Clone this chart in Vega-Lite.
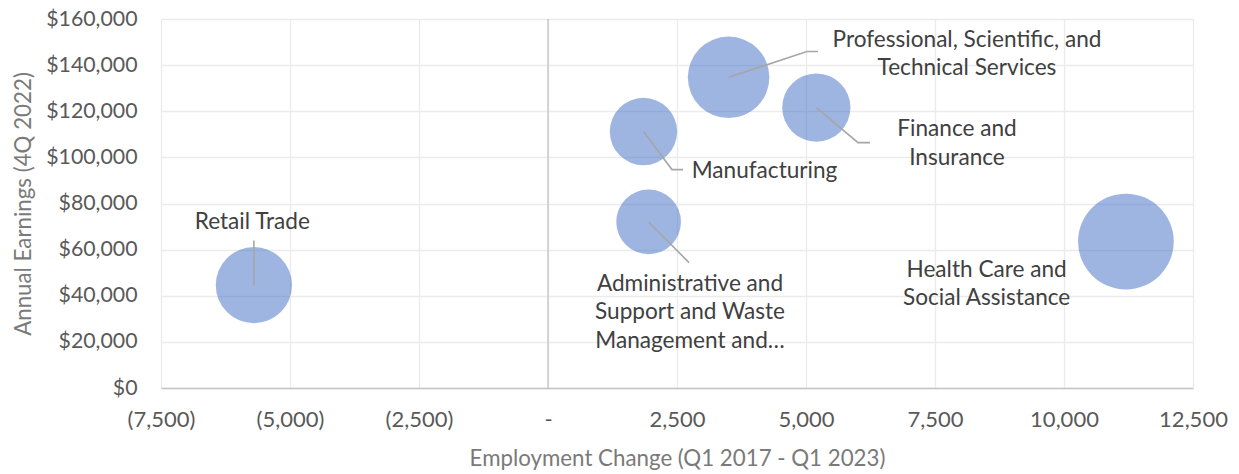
{
  "$schema": "https://vega.github.io/schema/vega-lite/v6.json",
  "width": 1032,
  "height": 369,
  "autosize": {"type": "none"},
  "padding": {"left": 161, "top": 19, "right": 46, "bottom": 86},
  "background": "white",
  "config": {"view": {"stroke": null}, "font": "Lato"},
  "datasets": {
    "industries": [
      {"industry": "Retail Trade", "label": "Retail Trade", "employment_change": -5700, "annual_earnings": 44600, "bubble": 1849, "label_x": -5730, "label_y": 72150},
      {"industry": "Manufacturing", "label": "Manufacturing", "employment_change": 1850, "annual_earnings": 111200, "bubble": 1444, "label_x": 4196, "label_y": 94270},
      {"industry": "Professional, Scientific, and Technical Services", "label": "Professional, Scientific, and\nTechnical Services", "employment_change": 3500, "annual_earnings": 134700, "bubble": 2116, "label_x": 8120, "label_y": 151100},
      {"industry": "Finance and Insurance", "label": "Finance and\nInsurance", "employment_change": 5200, "annual_earnings": 121600, "bubble": 1482, "label_x": 7926, "label_y": 112300},
      {"industry": "Administrative and Support and Waste Management and Remediation Services", "label": "Administrative and\nSupport and Waste\nManagement and…", "employment_change": 1950, "annual_earnings": 72000, "bubble": 1332, "label_x": 2752, "label_y": 45250},
      {"industry": "Health Care and Social Assistance", "label": "Health Care and\nSocial Assistance", "employment_change": 11200, "annual_earnings": 63500, "bubble": 2916, "label_x": 8500, "label_y": 51300}
    ],
    "leaders": [
      {"industry": "Retail Trade", "pt": 1, "x": -5700, "y": 44600},
      {"industry": "Retail Trade", "pt": 2, "x": -5700, "y": 64000},
      {"industry": "Manufacturing", "pt": 1, "x": 1850, "y": 111200},
      {"industry": "Manufacturing", "pt": 2, "x": 2403, "y": 94700},
      {"industry": "Manufacturing", "pt": 3, "x": 2616, "y": 94700},
      {"industry": "Professional", "pt": 1, "x": 3500, "y": 134700},
      {"industry": "Professional", "pt": 2, "x": 5019, "y": 145900},
      {"industry": "Professional", "pt": 3, "x": 5233, "y": 145900},
      {"industry": "Finance", "pt": 1, "x": 5200, "y": 121600},
      {"industry": "Finance", "pt": 2, "x": 6008, "y": 106400},
      {"industry": "Finance", "pt": 3, "x": 6240, "y": 106400},
      {"industry": "Administrative", "pt": 1, "x": 1950, "y": 72000},
      {"industry": "Administrative", "pt": 2, "x": 2733, "y": 54360}
    ]
  },
  "layer": [
    {
      "data": {"values": [{"v": 0}]},
      "mark": {"type": "rule", "color": "#C4C4C4", "strokeWidth": 1.3},
      "encoding": {
        "x": {
          "field": "v",
          "type": "quantitative",
          "scale": {"domain": [-7500, 12500], "nice": false, "zero": false},
          "axis": {
            "values": [-7500, -5000, -2500, 0, 2500, 5000, 7500, 10000, 12500],
            "labelExpr": "datum.value < 0 ? '(' + format(-datum.value, ',') + ')' : (datum.value == 0 ? '-' : format(datum.value, ','))",
            "labelFlush": false,
            "labelOverlap": false,
            "grid": true,
            "gridColor": "#EBEBEB",
            "gridWidth": 1.3,
            "domain": true,
            "domainColor": "#C4C4C4",
            "domainWidth": 1.5,
            "ticks": false,
            "labelFontSize": 22,
            "labelColor": "#595959",
            "labelPadding": 21,
            "labelFont": "Lato",
            "title": "Employment Change (Q1 2017 - Q1 2023)",
            "titleFont": "Lato",
            "titleFontSize": 22.3,
            "titleFontWeight": "normal",
            "titleColor": "#7A7A7A",
            "titlePadding": 17
          }
        }
      }
    },
    {
      "data": {"name": "industries"},
      "mark": {"type": "point", "shape": "circle", "filled": true, "color": "#4472C4", "opacity": 0.52, "strokeWidth": 0},
      "encoding": {
        "x": {"field": "employment_change", "type": "quantitative", "scale": {"domain": [-7500, 12500], "nice": false, "zero": false}},
        "y": {
          "field": "annual_earnings",
          "type": "quantitative",
          "scale": {"domain": [0, 160000], "nice": false},
          "axis": {
            "values": [0, 20000, 40000, 60000, 80000, 100000, 120000, 140000, 160000],
            "labelExpr": "'$' + format(datum.value, ',')",
            "labelOverlap": false,
            "labelFlush": false,
            "grid": true,
            "gridColor": "#EBEBEB",
            "gridWidth": 1.3,
            "domain": false,
            "ticks": false,
            "labelFontSize": 21.3,
            "labelColor": "#595959",
            "labelPadding": 24,
            "labelFont": "Lato",
            "title": "Annual Earnings (4Q 2022)",
            "titleFont": "Lato",
            "titleFontSize": 22.3,
            "titleFontWeight": "normal",
            "titleColor": "#7A7A7A",
            "titlePadding": 10
          }
        },
        "size": {"field": "bubble", "type": "quantitative", "scale": {"type": "linear", "domain": [0, 2916], "range": [0, 9161], "zero": true}, "legend": null}
      }
    },
    {
      "data": {"name": "leaders"},
      "mark": {"type": "line", "color": "#A6A6A6", "strokeWidth": 1.6},
      "encoding": {
        "x": {"field": "x", "type": "quantitative"},
        "y": {"field": "y", "type": "quantitative"},
        "detail": {"field": "industry"},
        "order": {"field": "pt", "type": "quantitative"}
      }
    },
    {
      "data": {"name": "industries"},
      "mark": {"type": "text", "align": "center", "baseline": "middle", "lineBreak": "\n", "lineHeight": 28.5, "fontSize": 22.6, "font": "Lato", "color": "#404040"},
      "encoding": {
        "x": {"field": "label_x", "type": "quantitative"},
        "y": {"field": "label_y", "type": "quantitative"},
        "text": {"field": "label"}
      }
    }
  ]
}
